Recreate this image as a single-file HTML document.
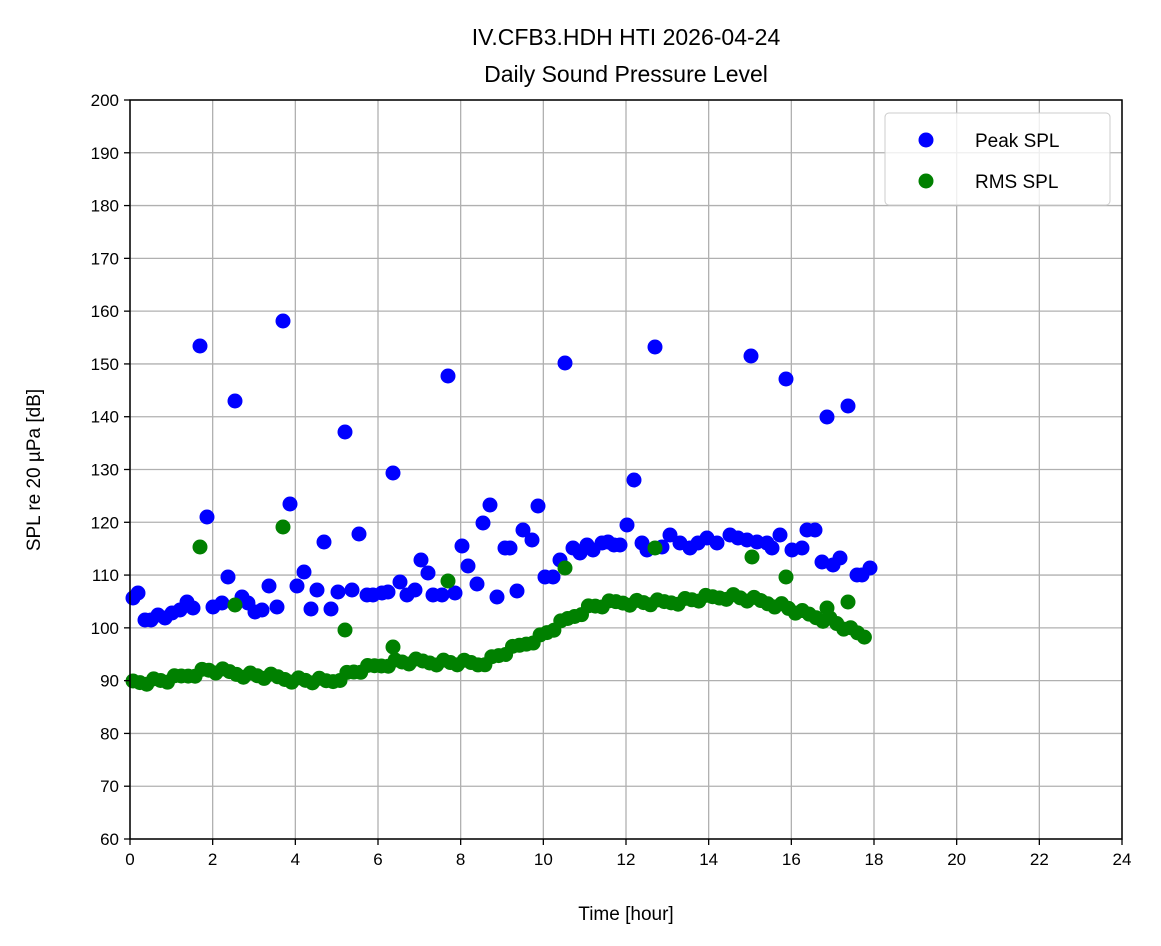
<!DOCTYPE html>
<html><head><meta charset="utf-8"><style>body{margin:0;background:#fff}svg{display:block;font-family:"Liberation Sans","DejaVu Sans",sans-serif}</style></head>
<body>
<svg id="s" width="1161" height="946" viewBox="0 0 1161 946">
<rect width="1161" height="946" fill="#fff"/>
<g id="grid" stroke="#b0b0b0" stroke-width="1.3"></g>
<g id="pts"></g>
<rect x="130" y="100" width="992" height="739" fill="none" stroke="#000" stroke-width="1.5"/>
<g id="ticks" font-size="17" fill="#000"></g>
<text x="626" y="45" font-size="23" text-anchor="middle">IV.CFB3.HDH HTI 2026-04-24</text>
<text x="626" y="82" font-size="23" text-anchor="middle">Daily Sound Pressure Level</text>
<text x="626" y="920" font-size="19" text-anchor="middle">Time [hour]</text>
<text transform="translate(40,470) rotate(-90)" font-size="19" text-anchor="middle">SPL re 20 µPa [dB]</text>
<g>
<rect x="885" y="113" width="225" height="92" rx="4" fill="#fff" fill-opacity="0.8" stroke="#ccc"/>
<circle cx="926" cy="140" r="7.5" fill="#0000ff"/>
<text x="975" y="147" font-size="19">Peak SPL</text>
<circle cx="926" cy="181" r="7.5" fill="#008000"/>
<text x="975" y="188" font-size="19">RMS SPL</text>
</g>
</svg>
<script>
var ns="http://www.w3.org/2000/svg";
function el(p,t,a){var e=document.createElementNS(ns,t);for(var k in a)e.setAttribute(k,a[k]);p.appendChild(e);return e;}
var g=document.getElementById('grid'),tk=document.getElementById('ticks'),pts=document.getElementById('pts');
for(var h=0;h<=24;h+=2){var x=130+h*992/24;el(g,'line',{x1:x,x2:x,y1:100,y2:839});el(tk,'line',{x1:x,x2:x,y1:839,y2:845,stroke:'#000','stroke-width':1.3});var t=el(tk,'text',{x:x,y:865,'text-anchor':'middle'});t.textContent=h;}
for(var v=60;v<=200;v+=10){var y=839-(v-60)*739/140;el(g,'line',{x1:130,x2:1122,y1:y,y2:y});el(tk,'line',{x1:124,x2:130,y1:y,y2:y,stroke:'#000','stroke-width':1.3});var t=el(tk,'text',{x:119,y:y+6,'text-anchor':'end'});t.textContent=v;}
var peak=[[133,598],[138,593],[145,620],[151,620],[158,615],[165,618],[172,613],[180,610],[187,602],[193,608],[200,346],[207,517],[213,607],[222,603],[228,577],[235,401],[242,597],[248,603],[255,612],[262,610],[269,586],[277,607],[283,321],[290,504],[297,586],[304,572],[311,609],[317,590],[324,542],[331,609],[338,592],[345,432],[352,590],[359,534],[367,595],[373,595],[382,593],[388,592],[393,473],[400,582],[407,595],[415,590],[421,560],[428,573],[433,595],[442,595],[448,376],[455,593],[462,546],[468,566],[477,584],[483,523],[490,505],[497,597],[505,548],[510,548],[517,591],[523,530],[532,540],[538,506],[545,577],[553,577],[560,560],[565,363],[573,548],[580,553],[587,545],[593,550],[602,543],[608,542],[614,545],[620,545],[627,525],[634,480],[642,543],[647,550],[655,347],[662,547],[670,535],[680,543],[690,548],[698,543],[707,538],[717,543],[730,535],[738,538],[747,540],[751,356],[757,542],[767,543],[772,548],[780,535],[786,379],[792,550],[802,548],[807,530],[815,530],[822,562],[827,417],[833,565],[840,558],[848,406],[857,575],[862,575],[870,568]];
peak.forEach(function(p){el(pts,'circle',{cx:p[0],cy:p[1],r:7.5,fill:'#0000ff'});});
var curve=[[133,682],[170,680],[207,670],[250,675],[300,680],[330,682],[350,673],[393,662],[440,662],[480,664],[500,655],[540,637],[570,618],[590,607],[620,602],[660,603],[730,596],[780,605],[800,613],[830,620],[855,633],[870,638]];
function cv(x){for(var i=0;i<curve.length-1;i++){if(x<=curve[i+1][0]){var a=curve[i],b=curve[i+1];return a[1]+(b[1]-a[1])*(x-a[0])/(b[0]-a[0]);}}return 638;}
var k=0;for(var x=133;x<=870;x+=6.9){k++;var y=cv(x)+((k*37)%7-3)*1.0;el(pts,'circle',{cx:x,cy:y,r:7.5,fill:'#008000'});}
[[200,547],[235,605],[283,527],[345,630],[393,647],[448,581],[565,568],[655,548],[752,557],[786,577],[827,608],[848,602]].forEach(function(p){el(pts,'circle',{cx:p[0],cy:p[1],r:7.5,fill:'#008000'});});
</script>
</body></html>
